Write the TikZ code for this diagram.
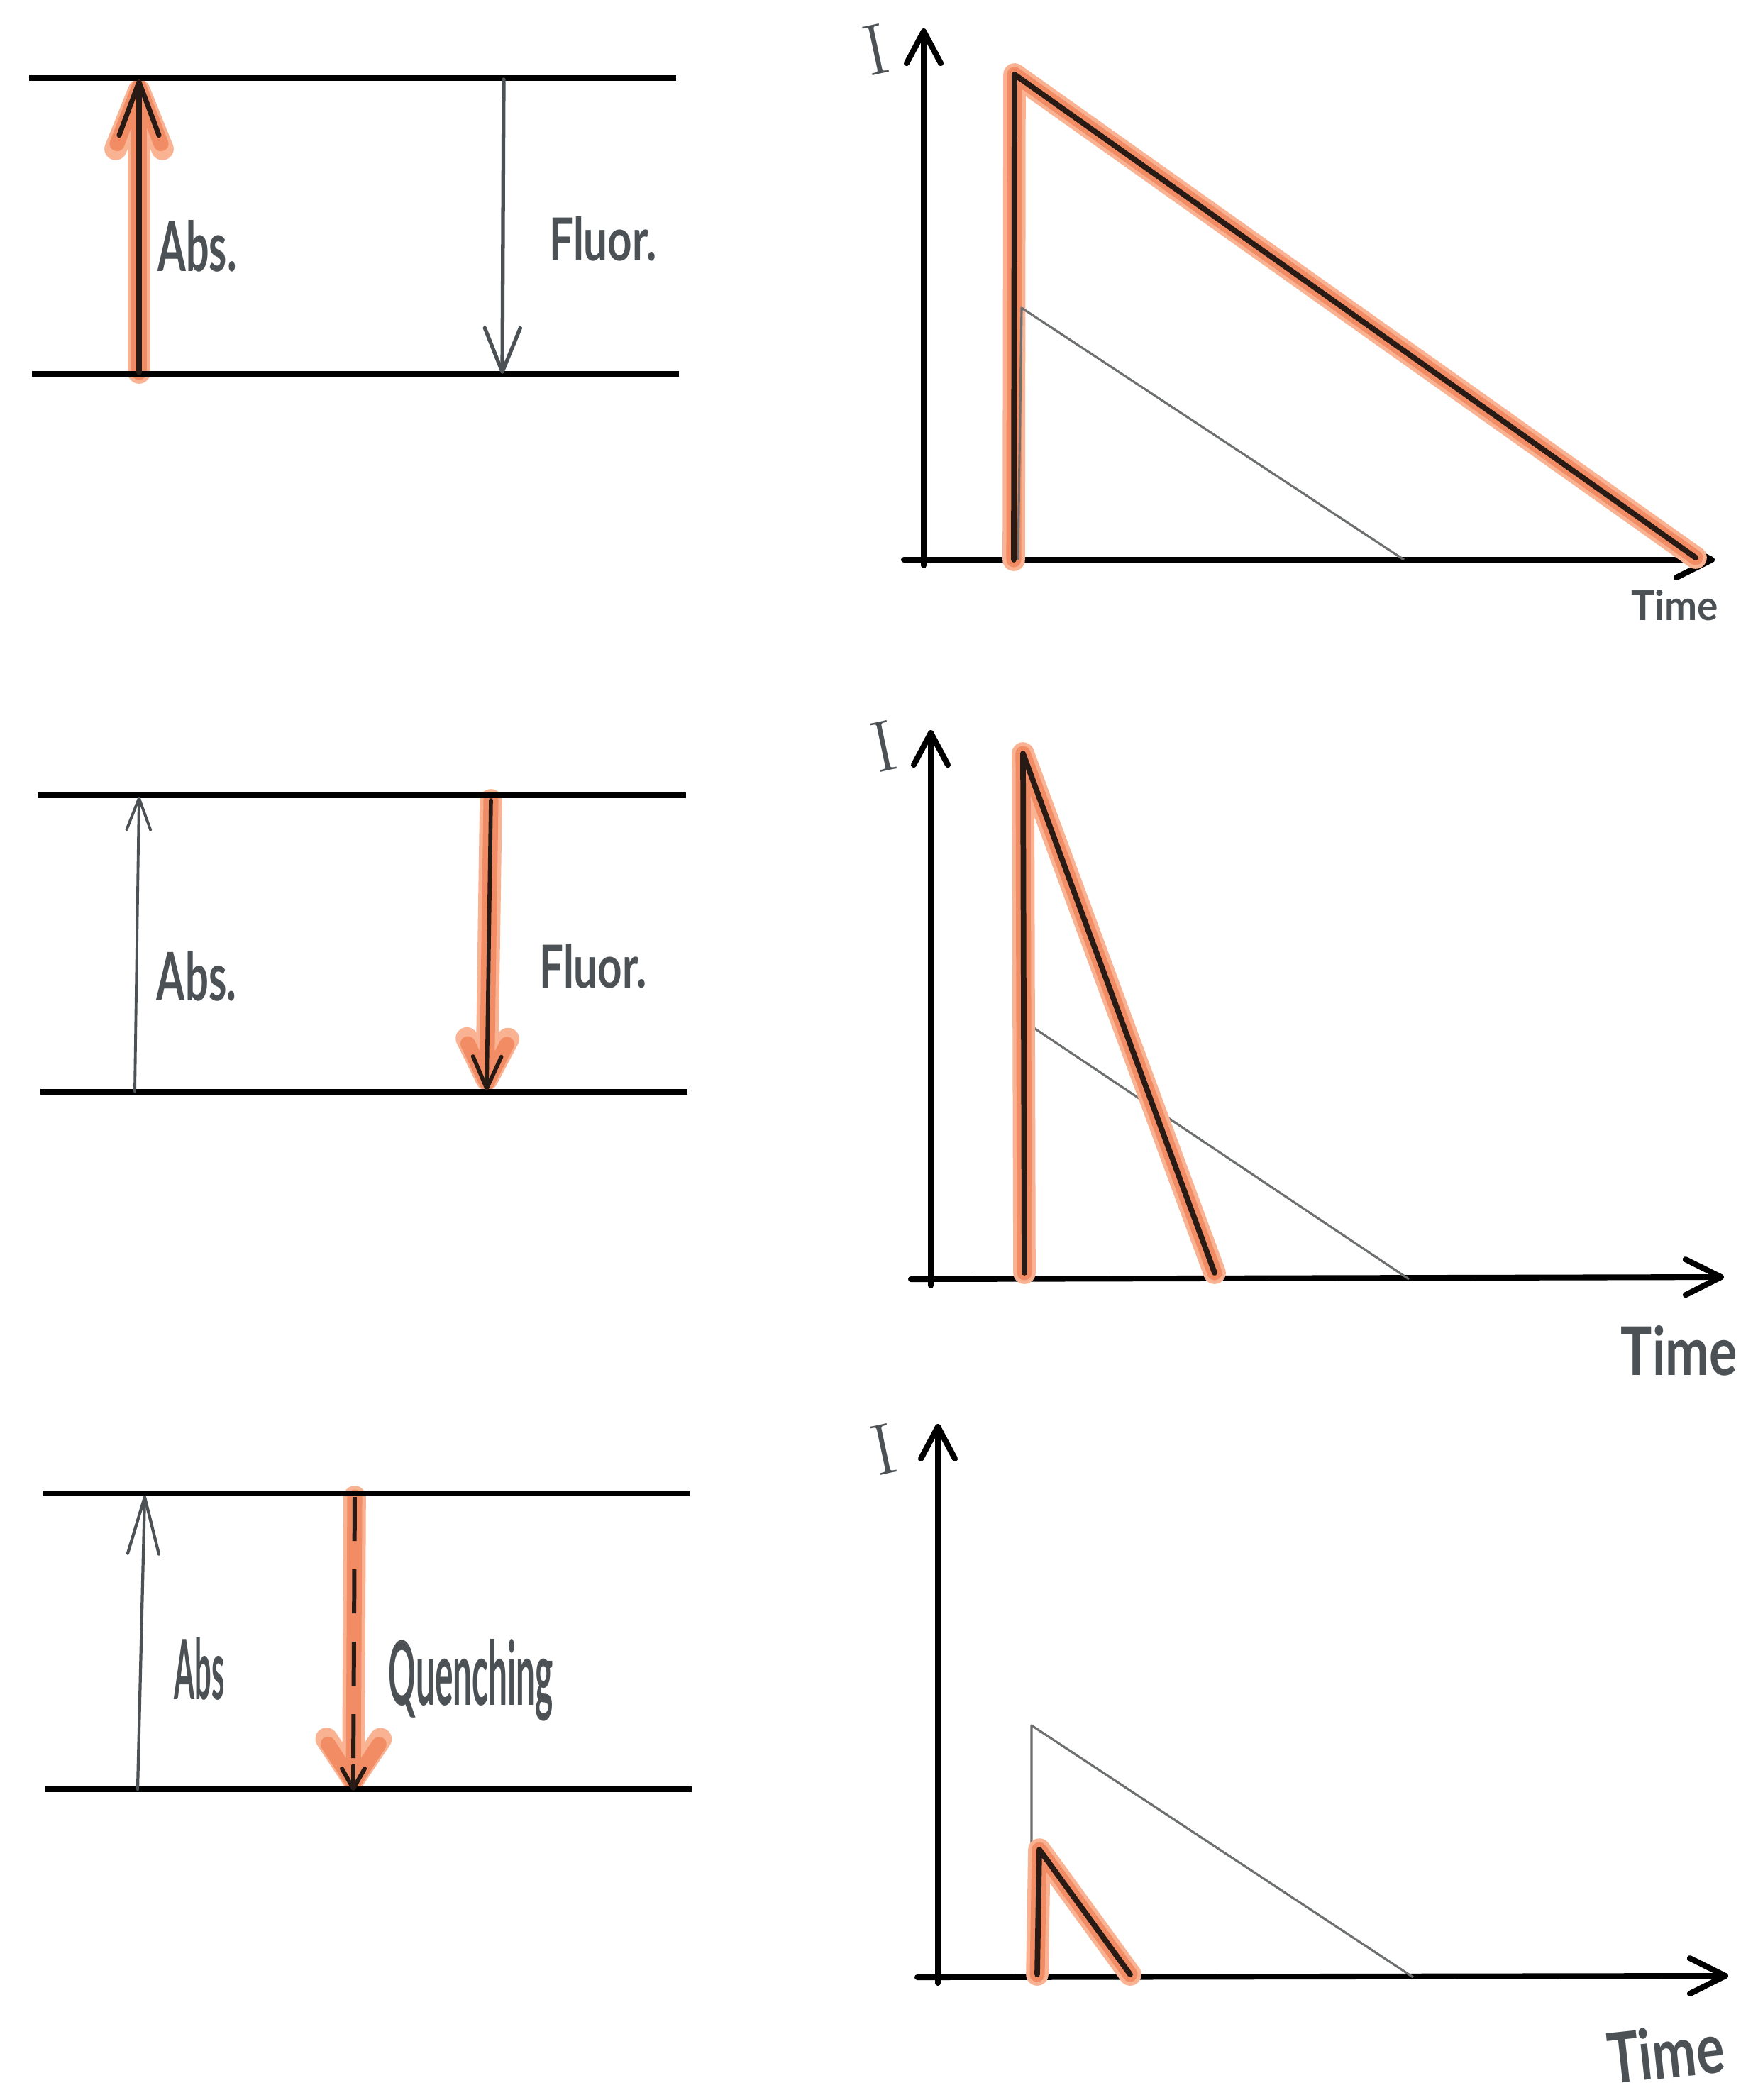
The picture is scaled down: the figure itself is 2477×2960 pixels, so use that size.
\documentclass[tikz,border=0pt]{standalone}
\usepackage{fontspec}
\usepackage{graphicx}
\usetikzlibrary{arrows.meta}
\newfontfamily\handfont{Lato}
\definecolor{hlsoft}{RGB}{249,178,146}
\definecolor{hlorange}{RGB}{242,140,100}
\definecolor{inkgray}{RGB}{75,81,85}
\definecolor{curvegray}{RGB}{110,112,112}
\definecolor{inkdark}{RGB}{40,26,20}
\newcommand\handtext[3]{\resizebox{#1}{#2}{\handfont\bfseries #3}}
\tikzset{
  level/.style={line width=2.4pt, black},
  axis/.style={line width=2.3pt, black, line cap=round},
  hilitesoft/.style={line width=9pt, hlsoft, line cap=round, line join=round},
  hilite/.style={line width=6pt, hlorange, line cap=round, line join=round},
  inkline/.style={line width=2.2pt, inkdark, line cap=round, line join=round},
  grayarrow/.style={inkgray, line cap=round},
  graycurve/.style={line width=0.9pt, curvegray, line join=round},
  lab/.style={inner sep=0pt, text=inkgray},
}
\begin{document}
\begin{tikzpicture}[x=0.01cm,y=-0.01cm]
\fill[white] (0,0) rectangle (2477,2960);
\useasboundingbox (0,0) rectangle (2477,2960);

% ---------- Panel 1 ----------
\coordinate (p1ul) at (41,110);  \coordinate (p1ur) at (953,110);
\coordinate (p1ll) at (45,527);  \coordinate (p1lr) at (957,527);
\coordinate (a1b) at (196,525);  \coordinate (a1t) at (196,112);
\coordinate (f1t) at (710,112);  \coordinate (f1b) at (708,527);
\draw[hilitesoft,-{Straight Barb[length=0.82cm,width=0.66cm,round]}] (a1b) -- (a1t);
\draw[hilite,-{Straight Barb[length=0.8cm,width=0.62cm,round]}] (a1b) -- (a1t);
\draw[level] (p1ul) -- (p1ur);
\draw[level] (p1ll) -- (p1lr);
\draw[line width=2pt, inkdark, line cap=round, -{Straight Barb[length=0.75cm,width=0.56cm,round]}] (a1b) -- (a1t);
\draw[grayarrow, line width=1.5pt, -{Straight Barb[length=0.62cm,width=0.5cm,round]}] (f1t) -- (f1b);
\node[lab] (abs1) at (278,347) {\handtext{1.11cm}{0.72cm}{Abs.}};
\node[lab] (fluor1) at (850,337) {\handtext{1.51cm}{0.62cm}{Fluor.}};

% ---------- Panel 2 ----------
\coordinate (p2ul) at (53,1121);  \coordinate (p2ur) at (967,1121);
\coordinate (p2ll) at (57,1539);  \coordinate (p2lr) at (969,1539);
\coordinate (a2b) at (190,1539);  \coordinate (a2t) at (196,1123);
\coordinate (f2t) at (692,1128);  \coordinate (f2b) at (686,1537);
\draw[hilitesoft,-{Straight Barb[length=0.57cm,width=0.58cm,round]}] (f2t) -- (f2b);
\draw[hilite,-{Straight Barb[length=0.55cm,width=0.55cm,round]}] (f2t) -- (f2b);
\draw[level] (p2ul) -- (p2ur);
\draw[level] (p2ll) -- (p2lr);
\draw[grayarrow, line width=1.1pt, -{Straight Barb[length=0.45cm,width=0.34cm,round]}] (a2b) -- (a2t);
\draw[line width=1.6pt, inkdark, line cap=round, -{Straight Barb[length=0.45cm,width=0.4cm,round]}] (f2t) -- (f2b);
\node[lab] (abs2) at (277,1376) {\handtext{1.12cm}{0.70cm}{Abs.}};
\node[lab] (fluor2) at (836,1362) {\handtext{1.51cm}{0.62cm}{Fluor.}};

% ---------- Panel 3 ----------
\coordinate (p3ul) at (60,2105);  \coordinate (p3ur) at (972,2105);
\coordinate (p3ll) at (64,2522);  \coordinate (p3lr) at (975,2522);
\coordinate (a3b) at (194,2522);  \coordinate (a3t) at (204,2108);
\coordinate (q3t) at (500,2110);  \coordinate (q3b) at (498,2524);
\draw[hilitesoft,-{Straight Barb[length=0.57cm,width=0.76cm,round]}] (q3t) -- (q3b);
\draw[hilite,-{Straight Barb[length=0.55cm,width=0.72cm,round]}] (q3t) -- (q3b);
\draw[level] (p3ul) -- (p3ur);
\draw[level] (p3ll) -- (p3lr);
\draw[grayarrow, line width=1.2pt, -{Straight Barb[length=0.8cm,width=0.44cm,round]}] (a3b) -- (a3t);
\draw[line width=1.7pt, inkdark, dash pattern=on 0.62cm off 0.4cm] (q3t) -- ([yshift=8pt]q3b);
\draw[line width=1.7pt, inkdark, line cap=round, -{Straight Barb[length=0.28cm,width=0.32cm,round]}] ([yshift=10pt]q3b) -- (q3b);
\node[lab] (abs3) at (281,2352) {\handtext{0.71cm}{0.87cm}{Abs}};
\node[lab, anchor=base west] (quench) at (547,2403) {\handtext{2.32cm}{0.93cm}{Quenching}};

% ---------- Graph 1 ----------
\coordinate (g1o) at (1302,797);  \coordinate (g1y) at (1302,40);
\coordinate (g1xs) at (1274,789); \coordinate (g1x) at (2417,789);
\draw[axis, -{Straight Barb[length=0.45cm,width=0.48cm,round]}] (g1o) -- (g1y);
\draw[axis, -{Straight Barb[length=0.5cm,width=0.5cm,round]}] (g1xs) -- (g1x);
\coordinate (g1c0) at (1429,789); \coordinate (g1c1) at (1430,105); \coordinate (g1c2) at (2390,786);
\draw[hilitesoft] (g1c0) -- (g1c1) -- (g1c2);
\draw[hilite] (g1c0) -- (g1c1) -- (g1c2);
\draw[inkline] (g1c0) -- (g1c1) -- (g1c2);
\coordinate (g1g0) at (1435,789); \coordinate (g1g1) at (1440,434); \coordinate (g1g2) at (1979,789);
\draw[graycurve] (g1g0) -- (g1g1) -- (g1g2);
\node[lab, font=\fontsize{29}{30}\selectfont, rotate=12] (i1) at (1235,70) {I};
\node[lab] (time1) at (2361,853) {\handtext{1.22cm}{0.43cm}{Time}};

% ---------- Graph 2 ----------
\coordinate (g2o) at (1312,1812);  \coordinate (g2y) at (1312,1029);
\coordinate (g2xs) at (1284,1803); \coordinate (g2x) at (2430,1800);
\draw[axis, -{Straight Barb[length=0.45cm,width=0.48cm,round]}] (g2o) -- (g2y);
\draw[axis, -{Straight Barb[length=0.5cm,width=0.5cm,round]}] (g2xs) -- (g2x);
\coordinate (g2g0) at (1446,1803); \coordinate (g2g1) at (1450,1444); \coordinate (g2g2) at (1986,1803);
\draw[graycurve] (g2g0) -- (g2g1) -- (g2g2);
\coordinate (g2c0) at (1444,1794); \coordinate (g2c1) at (1442,1062); \coordinate (g2c2) at (1712,1794);
\draw[hilitesoft] (g2c0) -- (g2c1) -- (g2c2);
\draw[hilite] (g2c0) -- (g2c1) -- (g2c2);
\draw[inkline] (g2c0) -- (g2c1) -- (g2c2);
\node[lab, font=\fontsize{29}{30}\selectfont, rotate=12] (i2) at (1246,1052) {I};
\node[lab] (time2) at (2367,1904) {\handtext{1.64cm}{0.70cm}{Time}};

% ---------- Graph 3 ----------
\coordinate (g3o) at (1322,2795);  \coordinate (g3y) at (1322,2007);
\coordinate (g3xs) at (1293,2787); \coordinate (g3x) at (2436,2785);
\draw[axis, -{Straight Barb[length=0.45cm,width=0.48cm,round]}] (g3o) -- (g3y);
\draw[axis, -{Straight Barb[length=0.5cm,width=0.5cm,round]}] (g3xs) -- (g3x);
\coordinate (g3g0) at (1454,2787); \coordinate (g3g1) at (1454,2432); \coordinate (g3g2) at (1992,2787);
\draw[graycurve] (g3g0) -- (g3g1) -- (g3g2);
\coordinate (g3c0) at (1462,2783); \coordinate (g3c1) at (1465,2607); \coordinate (g3c2) at (1593,2783);
\draw[hilitesoft] (g3c0) -- (g3c1) -- (g3c2);
\draw[hilite] (g3c0) -- (g3c1) -- (g3c2);
\draw[inkline] (g3c0) -- (g3c1) -- (g3c2);
\node[lab, font=\fontsize{29}{30}\selectfont, rotate=12] (i3) at (1246,2043) {I};
\node[lab, rotate=6] (time3) at (2348,2893) {\handtext{1.64cm}{0.73cm}{Time}};
\end{tikzpicture}
\end{document}
